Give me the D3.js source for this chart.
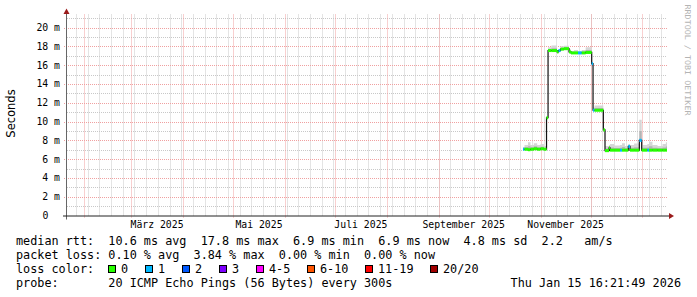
<!DOCTYPE html>
<html><head><meta charset="utf-8">
<script src="https://cdn.jsdelivr.net/npm/d3@7"></script>
<style>html,body{margin:0;padding:0;background:#fff;}svg{display:block;}</style>
</head><body>
<svg id="c" width="697" height="297"></svg>
<script>
// ---- data ----
const endTime = "2026-01-15T16:21:49";
const spanDays = 359.07;
const segStart = [
 "2025-10-21T13:00","2025-10-22T10:00","2025-10-24T12:00","2025-10-26T00:00","2025-10-28T00:00",
 "2025-10-30T00:00","2025-11-01T00:00","2025-11-03T00:00","2025-11-04T14:00","2025-11-05T12:00",
 "2025-11-07T12:00","2025-11-10T21:00","2025-11-11T18:00","2025-11-12T23:00","2025-11-15T00:00",
 "2025-11-18T01:00","2025-11-19T06:00","2025-11-21T00:00","2025-11-23T10:00","2025-11-25T16:00",
 "2025-11-28T00:00","2025-12-01T15:00","2025-12-02T10:00","2025-12-03T07:00","2025-12-08T14:00",
 "2025-12-09T14:00","2025-12-12T00:00","2025-12-12T14:00","2025-12-15T00:00","2025-12-18T14:00",
 "2025-12-19T18:00","2025-12-21T12:00","2025-12-23T13:00","2025-12-24T13:00","2025-12-27T00:00",
 "2025-12-30T03:00","2025-12-31T13:00","2026-01-03T22:00","2026-01-04T22:00","2026-01-07T00:00",
 "2026-01-10T00:00","2026-01-13T00:00","2026-01-15T00:00"];
const medianMs = [
 7.05,7.05,7.0,7.05,7.1, 7.05,7.1,7.05,10.4,17.55,
 17.55,17.4,17.55,17.7,17.75, 17.4,17.3,17.3,17.3,17.3,
 17.35,16.15,11.2,11.2,9.1, 6.9,7.2,6.95,6.95,6.95,
 6.95,6.95,7.35,6.95,6.95, 8.0,6.95,6.95,6.95,6.95,
 6.95,6.95,6.95];
const lossCount = [
 1,0,0,0,0, 0,0,0,0,0,
 0,0,1,0,0, 0,0,0,1,0,
 0,1,1,0,0, 0,0,0,0,1,
 0,0,1,0,0, 1,0,1,0,0,
 0,0,0];
const smokeMaxMs = [
 7.3,7.5,7.8,7.5,7.7, 7.5,7.6,7.4,10.6,17.9,
 18.1,17.6,17.7,18.0,18.05, 17.7,17.5,17.6,17.5,17.6,
 17.9,16.3,11.5,11.7,9.3, 7.4,7.5,7.6,7.45,7.5,
 7.7,7.4,7.6,7.5,7.65, 10.2,7.5,7.6,7.85,7.5,
 7.4,7.6,7.8];

const yTicks = [0,2,4,6,8,10,12,14,16,18,20];
const monthLabels = ["März 2025","Mai 2025","Juli 2025","September 2025","November 2025"];
const monthLabelStarts = ["2025-03-01","2025-05-01","2025-07-01","2025-09-01","2025-11-01"];

const lossLabels = ["0","1","2","3","4-5","6-10","11-19","20/20"];
const lossColors = ["#26ff00","#00b8ff","#0059ff","#7e00ff","#ff00ff","#ff5500","#ff0000","#a10000"];

const rttText = "median rtt:  10.6 ms avg  17.8 ms max  6.9 ms min  6.9 ms now  4.8 ms sd  2.2   am/s";
const lossText = "packet loss: 0.10 % avg  3.84 % max  0.00 % min  0.00 % now";
const probeText = "probe:       20 ICMP Echo Pings (56 Bytes) every 300s";
const stampText = "Thu Jan 15 16:21:49 2026";

// ---- drawing ----
const svg = d3.select("#c");
svg.append("rect").attr("width",697).attr("height",297).attr("fill","#fff");
const L=67,R=667,T=15.5,B=215.5;
const end = new Date(endTime);
const start = new Date(end.getTime() - spanDays*864e5);
const x = d3.scaleTime().domain([start,end]).range([L,R]);
const y = d3.scaleLinear().domain([0,21.28]).range([B,T]);
const mono = "'DejaVu Sans Mono', monospace";

function lossBucket(n){ if(n<=3) return n; if(n<=5) return 4; if(n<=10) return 5; if(n<=19) return 6; return 7; }

const g = svg.append("g");
const weeks = d3.timeMonday.range(start,end);
g.selectAll(".wk").data(weeks).join("line")
 .attr("x1",d=>Math.round(x(d))+0.5).attr("x2",d=>Math.round(x(d))+0.5)
 .attr("y1",T-1).attr("y2",B).attr("stroke","#c8c8c8").attr("stroke-dasharray","1,1");
const minorY = d3.range(1,22,2);
g.selectAll(".hm").data(minorY).join("line")
 .attr("x1",L).attr("x2",R).attr("y1",d=>Math.round(y(d))+0.5).attr("y2",d=>Math.round(y(d))+0.5)
 .attr("stroke","#c8c8c8").attr("stroke-dasharray","1,1");
const months = d3.timeMonth.range(start,end);
g.selectAll(".mo").data(months).join("line")
 .attr("x1",d=>Math.round(x(d))+0.5).attr("x2",d=>Math.round(x(d))+0.5)
 .attr("y1",T-1).attr("y2",B+2).attr("stroke","#f0a0a0").attr("stroke-dasharray","1,1");
g.selectAll(".hM").data(yTicks.filter(v=>v>0)).join("line")
 .attr("x1",L-3).attr("x2",R).attr("y1",d=>Math.round(y(d))+0.5).attr("y2",d=>Math.round(y(d))+0.5)
 .attr("stroke","#f0a0a0").attr("stroke-dasharray","1,1");

const rows = segStart.map((s,i)=>({date:new Date(s),m:medianMs[i],loss:lossCount[i],hi:smokeMaxMs[i]}));
const rowsExt = rows.concat([{...rows[rows.length-1],date:end}]);

const smoke = d3.area().curve(d3.curveStepAfter).x(d=>x(d.date)).y0(d=>y(d.m)).y1(d=>y(d.hi));
svg.append("path").attr("d",smoke(rowsExt)).attr("fill","#d6d6d6");
const smokeMid = d3.area().curve(d3.curveStepAfter).x(d=>x(d.date)).y0(d=>y(d.m)).y1(d=>y(d.m+(d.hi-d.m)*0.45));
svg.append("path").attr("d",smokeMid(rowsExt)).attr("fill","#b4b4b4");

const ml = d3.line().curve(d3.curveStepAfter).x(d=>x(d.date)).y(d=>y(d.m));
svg.append("path").attr("d",ml(rowsExt)).attr("fill","none").attr("stroke","#111").attr("stroke-width",1.2);

svg.selectAll(".band").data(rows).join("rect")
 .attr("x",(d,i)=>x(d.date))
 .attr("width",(d,i)=>Math.max(1,x(rowsExt[i+1].date)-x(d.date)))
 .attr("y",d=>y(d.m)-1.5).attr("height",3)
 .attr("fill",d=>lossColors[lossBucket(d.loss)]);

svg.append("line").attr("x1",L-0.5).attr("x2",L-0.5).attr("y1",T-4).attr("y2",B+4).attr("stroke","#666");
svg.append("line").attr("x1",L-4).attr("x2",R+3).attr("y1",B+0.5).attr("y2",B+0.5).attr("stroke","#222");
svg.append("path").attr("d",`M${L-3.5},${T-1.5} L${L+2.5},${T-1.5} L${L-0.5},${T-7} Z`).attr("fill","#9a1a1a");
svg.append("path").attr("d",`M${R+2},${B-2.5} L${R+2},${B+3.5} L${R+7},${B+0.5} Z`).attr("fill","#9a1a1a");

svg.selectAll(".yl").data(yTicks).join("text")
 .attr("x",d=>d===0?48.5:60).attr("y",d=>y(d)+3.5)
 .attr("text-anchor","end").attr("font-family",mono).attr("font-size",9.8).attr("fill","#000")
 .text(d=>d===0?"0":d+" m");

svg.selectAll(".xl").data(monthLabels).join("text")
 .attr("x",(d,i)=>{const s=new Date(monthLabelStarts[i]+"T00:00");return (x(s)+x(d3.timeMonth.offset(s,1)))/2;})
 .attr("y",228).attr("text-anchor","middle").attr("font-family",mono).attr("font-size",9.8).attr("fill","#000")
 .text(d=>d);

svg.append("text").attr("transform","translate(14.5,113.5) rotate(-90)").attr("text-anchor","middle")
 .attr("font-family","'DejaVu Sans', sans-serif").attr("font-size",11.5).attr("fill","#000").text("Seconds");

svg.append("text").attr("transform","translate(684.5,4.5) rotate(90)")
 .attr("font-family",mono).attr("font-size",7.8).attr("fill","#b4b4b4")
 .attr("textLength",111).attr("lengthAdjust","spacingAndGlyphs").text("RRDTOOL / TOBI OETIKER");

const fs = 11.8;
function txt(str,xx,yy,anchor){ return svg.append("text").attr("x",xx).attr("y",yy).attr("font-family",mono).attr("font-size",fs)
  .attr("fill","#000").attr("text-anchor",anchor||"start").attr("xml:space","preserve").style("white-space","pre").text(str); }
txt(rttText,16,245);
txt(lossText,16,259);
txt("loss color:",16,273);
let bx = 108;
lossLabels.forEach((lab,i)=>{
  svg.append("rect").attr("x",bx+0.5).attr("y",265.5).attr("width",7).attr("height",7)
   .attr("fill",lossColors[i]).attr("stroke","#000").attr("stroke-width",1);
  txt(lab,bx+13,273);
  bx += 30 + 7*lab.length;
});
txt(probeText,16,287);
txt(stampText,681,287,"end");
</script>
</body></html>
